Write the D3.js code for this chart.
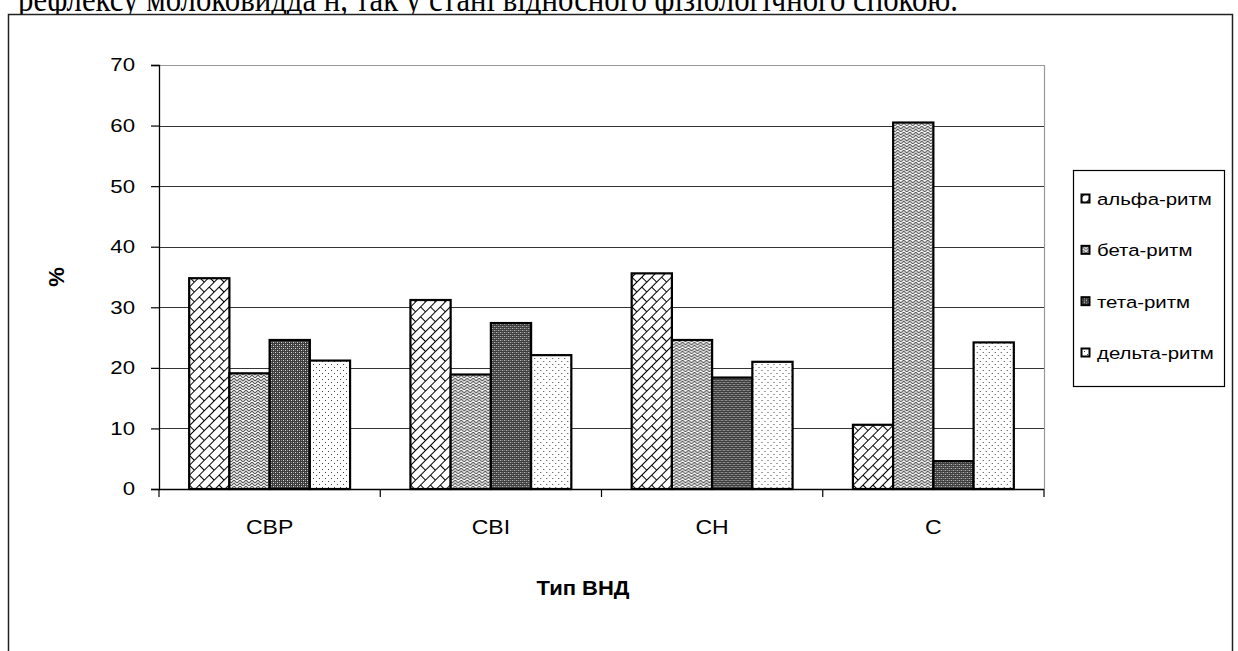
<!DOCTYPE html>
<html>
<head>
<meta charset="utf-8">
<script src="https://cdn.jsdelivr.net/npm/d3@7"></script>
<style>
  html, body { margin: 0; padding: 0; background: #fff; }
  svg { display: block; }
  text { font-family: "Liberation Sans", Arial, sans-serif; fill: #000; }
</style>
</head>
<body>
<svg id="chart" width="1238" height="651"></svg>
<script>
// Частка ритмів ЕЕГ (%) за типами ВНД
const categories = ["СВР", "СВІ", "СН", "С"];
const seriesNames = ["альфа-ритм", "бета-ритм", "тета-ритм", "дельта-ритм"];
const alphaValues = [34.8, 31.2, 35.6, 10.6];
const betaValues  = [19.1, 18.9, 24.6, 60.5];
const thetaValues = [24.6, 27.4, 18.4, 4.6];
const deltaValues = [21.2, 22.1, 21.0, 24.2];
const yTicks = [0, 10, 20, 30, 40, 50, 60, 70];
const seriesValues = [alphaValues, betaValues, thetaValues, deltaValues];

const svg = d3.select("#chart");
const defs = svg.append("defs");

// --- fill patterns for the four series ---
// brick diagonal
const pBrick = defs.append("pattern").attr("id", "pat0")
  .attr("patternUnits", "userSpaceOnUse").attr("width", 14).attr("height", 14)
  .attr("patternTransform", "rotate(-45)");
pBrick.append("rect").attr("width", 14).attr("height", 14).attr("fill", "#fff");
pBrick.append("path").attr("d", "M0,0.5H14M0,7.5H14M0.5,0V7.5M7.5,7.5V14")
  .attr("stroke", "#000").attr("stroke-width", 1).attr("fill", "none");

// zigzag weave
const pZig = defs.append("pattern").attr("id", "pat1")
  .attr("patternUnits", "userSpaceOnUse").attr("width", 6).attr("height", 6);
pZig.append("rect").attr("width", 6).attr("height", 6).attr("fill", "#fff");
pZig.append("path").attr("d", "M0,3L3,0L6,3M0,6L3,3L6,6")
  .attr("stroke", "#555").attr("stroke-width", 1.1).attr("fill", "none");

// dark dotted grid
const pDark = defs.append("pattern").attr("id", "pat2")
  .attr("patternUnits", "userSpaceOnUse").attr("width", 4).attr("height", 4);
pDark.append("rect").attr("width", 4).attr("height", 4).attr("fill", "#3c3c3c");
pDark.append("rect").attr("x", 0).attr("y", 0).attr("width", 1).attr("height", 1).attr("fill", "#ddd");
pDark.append("rect").attr("x", 2).attr("y", 2).attr("width", 1).attr("height", 1).attr("fill", "#ddd");
pDark.append("rect").attr("x", 2).attr("y", 0).attr("width", 1).attr("height", 1).attr("fill", "#888");
pDark.append("rect").attr("x", 0).attr("y", 2).attr("width", 1).attr("height", 1).attr("fill", "#888");

// sparse dots
const pDots = defs.append("pattern").attr("id", "pat3")
  .attr("patternUnits", "userSpaceOnUse").attr("width", 6).attr("height", 6);
pDots.append("rect").attr("width", 6).attr("height", 6).attr("fill", "#fff");
pDots.append("rect").attr("x", 1).attr("y", 1).attr("width", 1).attr("height", 1).attr("fill", "#444");
pDots.append("rect").attr("x", 4).attr("y", 4).attr("width", 1).attr("height", 1).attr("fill", "#444");

// --- page text above the chart frame ---
svg.append("text")
  .attr("x", 18).attr("y", 11)
  .attr("textLength", 940).attr("lengthAdjust", "spacingAndGlyphs")
  .style("font-family", "'Liberation Serif', 'Times New Roman', serif")
  .style("font-size", "36px")
  .text("рефлексу молоковидда н, так у стані відносного фізіологічного спокою.");

// chart frame
svg.append("rect")
  .attr("x", 8.5).attr("y", 14.5).attr("width", 1224).attr("height", 700)
  .attr("fill", "#fff").attr("stroke", "#222").attr("stroke-width", 1.5);

// --- plot area ---
const plot = { left: 159, right: 1044, top: 65, bottom: 489 };

const x = d3.scaleBand().domain(categories).range([plot.left, plot.right]).padding(0);
const gw = x.bandwidth();
const barW = gw / 5.5;
const xs = d3.scaleBand().domain(d3.range(seriesNames.length))
  .range([0.75 * barW, gw - 0.75 * barW]).padding(0);
const y = d3.scaleLinear().domain([0, 70]).range([plot.bottom, plot.top]);

// gridlines
svg.append("g")
  .selectAll("line").data(yTicks.filter(d => d > 0)).join("line")
  .attr("x1", plot.left).attr("x2", plot.right)
  .attr("y1", d => Math.round(y(d)) + 0.5).attr("y2", d => Math.round(y(d)) + 0.5)
  .attr("stroke", d => d === 70 ? "#999" : "#333").attr("stroke-width", 1.2);

// right border of plot area
svg.append("line")
  .attr("x1", plot.right + 0.5).attr("x2", plot.right + 0.5)
  .attr("y1", plot.top).attr("y2", plot.bottom)
  .attr("stroke", "#999").attr("stroke-width", 1.2);

// bars
const groups = svg.append("g").selectAll("g").data(categories).join("g")
  .attr("transform", d => `translate(${x(d)},0)`);
groups.selectAll("rect")
  .data((c, ci) => seriesValues.map((vals, si) => ({ si, v: vals[ci] })))
  .join("rect")
  .attr("x", d => xs(d.si))
  .attr("width", xs.bandwidth())
  .attr("y", d => y(d.v))
  .attr("height", d => y(0) - y(d.v))
  .attr("fill", d => `url(#pat${d.si})`)
  .attr("stroke", "#000").attr("stroke-width", 2.2);

// y axis
const yAxis = svg.append("g")
  .attr("transform", `translate(${plot.left},0)`)
  .call(d3.axisLeft(y).tickValues(yTicks).tickSize(8).tickPadding(16).tickFormat(d3.format("d")));
yAxis.select(".domain").attr("stroke", "#000").attr("stroke-width", 1.3);
yAxis.selectAll(".tick line").attr("stroke", "#000").attr("stroke-width", 1.2);
yAxis.selectAll(".tick text")
  .style("font-size", "18.5px")
  .attr("x", -24 / 1.2)
  .attr("transform", "scale(1.2,1)");

// x axis with category separators
const xAxis = svg.append("g").attr("transform", `translate(0,${plot.bottom})`);
xAxis.append("line").attr("x1", plot.left).attr("x2", plot.right)
  .attr("y1", 0.5).attr("y2", 0.5).attr("stroke", "#000").attr("stroke-width", 1.3);
const seps = categories.map(c => x(c)).concat([plot.right]);
xAxis.selectAll("line.sep").data(seps).join("line").attr("class", "sep")
  .attr("x1", d => d).attr("x2", d => d).attr("y1", 0).attr("y2", 8)
  .attr("stroke", "#000").attr("stroke-width", 1.2);
xAxis.selectAll("text").data(categories).join("text")
  .attr("transform", d => `translate(${x(d) + gw / 2},45) scale(1.15,1)`)
  .attr("text-anchor", "middle")
  .style("font-size", "20px")
  .text(d => d);

// axis titles
svg.append("text")
  .attr("transform", `translate(583,595) scale(1.1,1)`)
  .attr("text-anchor", "middle")
  .style("font-size", "20px").style("font-weight", "bold")
  .text("Тип ВНД");
svg.append("text")
  .attr("transform", `translate(64,${(plot.top + plot.bottom) / 2}) rotate(-90)`)
  .attr("text-anchor", "middle")
  .style("font-size", "22px").style("font-weight", "bold")
  .text("%");

// legend
const legend = svg.append("g");
legend.append("rect")
  .attr("x", 1073.5).attr("y", 170.5).attr("width", 151).attr("height", 216)
  .attr("fill", "#fff").attr("stroke", "#000").attr("stroke-width", 1.2);
const ly = d3.scalePoint().domain(seriesNames).range([199, 353]);
const items = legend.selectAll("g.item").data(seriesNames).join("g").attr("class", "item")
  .attr("transform", d => `translate(0,${ly(d)})`);
items.append("rect")
  .attr("x", 1081.5).attr("y", -4.5).attr("width", 8).attr("height", 8)
  .attr("fill", (d, i) => `url(#pat${i})`)
  .attr("stroke", "#000").attr("stroke-width", 2);
items.append("text")
  .attr("transform", "translate(1097,6) scale(1.2,1)")
  .style("font-size", "17px")
  .text(d => d);
</script>
</body>
</html>
